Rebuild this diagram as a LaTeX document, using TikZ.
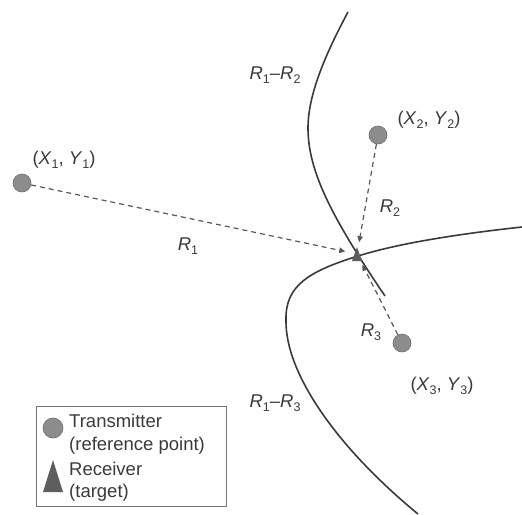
\documentclass[tikz,border=0pt]{standalone}
\usepackage{fontspec}
\setmainfont{Liberation Sans}
\usetikzlibrary{arrows.meta}
\definecolor{ink}{HTML}{3A3A3A}
\definecolor{dotfill}{HTML}{8C8C8C}
\definecolor{dotedge}{HTML}{6E6E6E}
\definecolor{rxfill}{HTML}{5E5E5E}
\newcommand{\mysub}[1]{\raisebox{-0.45ex}{\fontsize{12.5}{12.5}\selectfont #1}}
\newcommand{\vr}[2]{\textit{#1}\mysub{#2}}
\begin{document}
\begin{tikzpicture}[x=1pt,y=-1pt,
  curve/.style={draw=ink, line width=1.6pt},
  rangeline/.style={draw=ink!85, line width=1.2pt, dash pattern=on 5pt off 4pt,
    -{Triangle[length=6pt,width=5.5pt]}, shorten >=12pt},
  txpoint/.style={circle, fill=dotfill, draw=dotedge, line width=0.6pt,
    minimum size=18pt, inner sep=0pt},
  rxmark/.style={fill=rxfill},
  lbl/.style={text=ink, font=\fontsize{18.5}{18.5}\selectfont, inner sep=0pt},
  legendbox/.style={draw=ink!70, line width=0.9pt, inner sep=0pt}
]
\useasboundingbox (0,0) rectangle (522,514);

% hyperbola R1-R2
\draw[curve] (348,12) .. controls (325,55) and (308,95) .. (308,128)
  .. controls (308,170) and (330,215) .. (385,296);
% hyperbola R1-R3
\draw[curve] (522,227) .. controls (440,236) and (390,246) .. (358,256)
  .. controls (310,271) and (285,285) .. (286,320)
  .. controls (285,375) and (340,450) .. (418,514);

% points
\coordinate (rx) at (357,254);
\node[txpoint] (t1) at (22,183) {};
\node[txpoint] (t2) at (378,135) {};
\node[txpoint] (t3) at (402,343) {};

\draw[rangeline] (t1) -- (rx);
\draw[rangeline] (t2) -- (rx);
\draw[rangeline] (t3) -- (rx);
\fill[rxmark] (rx) ++(-5,7) -- ++(5,-14) -- ++(5,14) -- cycle;

% labels
\node[lbl] (l1) at (64,160) {(\vr{X}{1}, \vr{Y}{1})};
\node[lbl] (l2) at (429,120) {(\vr{X}{2}, \vr{Y}{2})};
\node[lbl] (l3) at (442,386) {(\vr{X}{3}, \vr{Y}{3})};
\node[lbl] (r1) at (188,246) {\vr{R}{1}};
\node[lbl] (r2) at (390,208) {\vr{R}{2}};
\node[lbl] (r3) at (371,332) {\vr{R}{3}};
\node[lbl] (h12) at (275,75) {\vr{R}{1}–\vr{R}{2}};
\node[lbl] (h13) at (275,403) {\vr{R}{1}–\vr{R}{3}};

% legend
\node[legendbox, anchor=north west, minimum width=190pt, minimum height=100pt] (legend) at (36,406) {};
\node[txpoint, minimum size=20pt] (legtx) at (53,428) {};
\fill[rxmark] (43,492) -- (53,460) -- (63,492) -- cycle;
\node[lbl, anchor=base west] (lt1) at (69,427) {Transmitter};
\node[lbl, anchor=base west] (lt2) at (69,450) {(reference point)};
\node[lbl, anchor=base west] (lt3) at (69,475) {Receiver};
\node[lbl, anchor=base west] (lt4) at (69,497) {(target)};
\end{tikzpicture}
\end{document}
